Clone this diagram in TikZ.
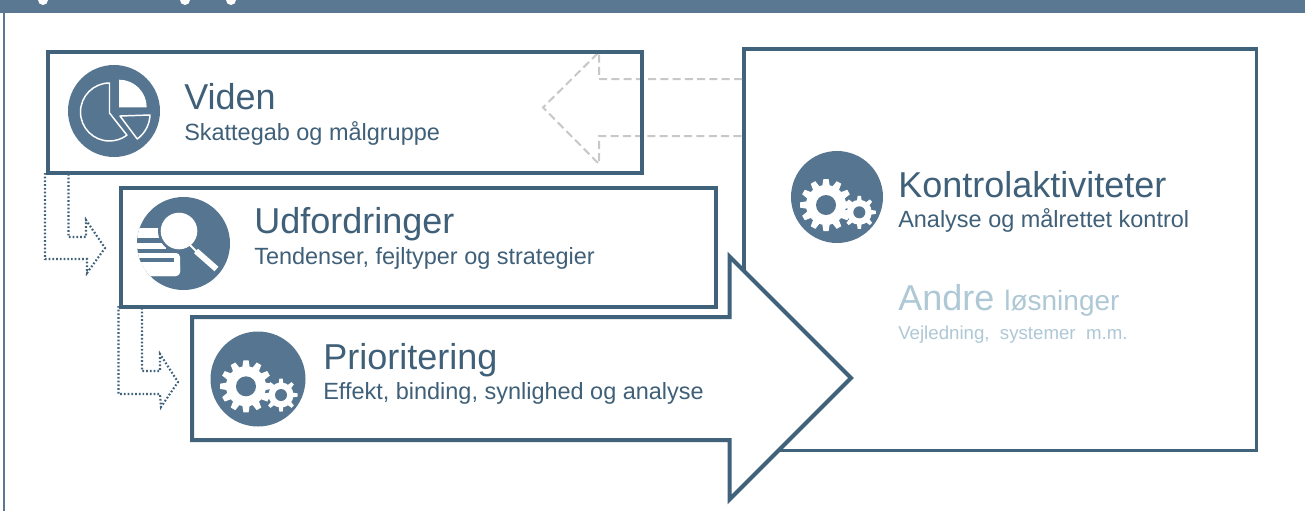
\documentclass[tikz,border=0pt]{standalone}
\usepackage{fontspec}
\setmainfont{Liberation Sans}
\definecolor{band}{HTML}{5A7891}
\definecolor{edge}{HTML}{40627A}
\definecolor{disc}{HTML}{567590}
\definecolor{txt}{HTML}{3F6078}
\definecolor{pale}{HTML}{AEC8D6}
\definecolor{dash}{HTML}{C8C8C8}
\newcommand{\gearshape}[6]{% x y teeth R r hole
  \begin{scope}[shift={(#1,#2)}]
    \fill[white] (0,0) circle[radius=#5];
    \foreach \a in {1,...,#3}{
      \begin{scope}[rotate={\a*360/#3}]
        \fill[white] (#5-2,-#4*0.15) -- (#4,-#4*0.1) -- (#4,#4*0.1) -- (#5-2,#4*0.15) -- cycle;
      \end{scope}
    }
    \fill[disc] (0,0) circle[radius=#6];
  \end{scope}}
\tikzset{
  x=.75pt,y=.75pt,
  panel/.style={draw=edge,line width=3pt,fill=white,miter limit=10},
  panelline/.style={draw=edge,line width=3pt,miter limit=10},
  ghost/.style={draw=dash,line width=1.5pt,dash pattern=on 6pt off 3.2pt},
  dots/.style={draw=edge,line width=1.6pt,dash pattern=on 1.3pt off 1.5pt},
  icon/.style={circle,fill=disc,inner sep=0pt,outer sep=0pt},
  title/.style={anchor=base west,inner sep=0pt,text=txt,font=\fontsize{27}{27}\selectfont},
  sub/.style={anchor=base west,inner sep=0pt,text=txt,font=\fontsize{17.6}{17.6}\selectfont},
}
\begin{document}
\begin{tikzpicture}
\useasboundingbox (0,0) rectangle (1305,-511);
\fill[white] (0,0) rectangle (1305,-511);
% header band and left rule
\fill[band] (0,0) rectangle (1305,-13);
\fill[band] (3.3,-13) rectangle (5,-511);
\foreach \x in {43,185,231}{\fill[white] (\x-5,0) arc[start angle=180,end angle=360,radius=5] -- cycle;}
% big box
\draw[panel,line width=2.7pt] (744,-49) rectangle (1256.5,-450.5);
% viden box, fill then ghost arrow then border
\fill[white] (45.5,-50) rectangle (640,-171);
\coordinate (g1) at (742,-79);
\coordinate (g2) at (599,-79);
\coordinate (g3) at (599,-52);
\coordinate (g4) at (543,-107.5);
\coordinate (g5) at (599,-164);
\coordinate (g6) at (599,-136);
\coordinate (g7) at (742,-136);
\draw[ghost] (g1) -- (g2) -- (g3) -- (g4) -- (g5) -- (g6) -- (g7);
\node[panelline,draw,rectangle,minimum width=594.5*.75pt,minimum height=121*.75pt,inner sep=0pt,anchor=north west] (viden) at (45.5,-50) {};
% dotted connectors
\coordinate (a1) at (45,-173);
\coordinate (a2) at (45,-259);
\coordinate (a3) at (87,-259);
\coordinate (a4) at (87,-273);
\coordinate (a5) at (105,-248);
\coordinate (a6) at (86,-220);
\coordinate (a7) at (86,-237);
\coordinate (a8) at (68.5,-237);
\coordinate (a9) at (68.5,-173);
\draw[dots] (a1) -- (a2) -- (a3) -- (a4) -- (a5) -- (a6) -- (a7) -- (a8) -- (a9);
\coordinate (b1) at (118.5,-306);
\coordinate (b2) at (118.5,-394);
\coordinate (b3) at (160,-394);
\coordinate (b4) at (161,-407);
\coordinate (b5) at (178,-382);
\coordinate (b6) at (160,-354);
\coordinate (b7) at (160,-371);
\coordinate (b8) at (142,-371);
\coordinate (b9) at (142,-306);
\draw[dots] (b1) -- (b2) -- (b3) -- (b4) -- (b5) -- (b6) -- (b7) -- (b8) -- (b9);
% udfordringer box
\node[panel,rectangle,minimum width=595*.75pt,minimum height=118.5*.75pt,inner sep=0pt,anchor=north west] (udf) at (119,-186) {};
% big arrow
\draw[panel] (192,-317) -- (729.5,-317) -- (729.5,-256.5) -- (851,-378) -- (729.5,-499.5) -- (729.5,-440) -- (192,-440) -- cycle;
% icons
\node[icon,minimum size=92*.75pt] (ic1) at (114,-111) {};
\draw[white,line width=1.1pt,line join=round] (109.5,-83) arc[start angle=90,end angle=307,radius=29] -- (109.5,-113) -- cycle;
\fill[white] (146.7,-107.3) arc[start angle=0,end angle=90,radius=27.6] -- (119,-107.3) -- cycle;
\draw[white,line width=1.1pt,line join=round] (120,-116) -- (150,-115) arc[start angle=-2,end angle=-54,radius=31] -- cycle;
\node[icon,minimum size=93*.75pt] (ic2) at (183.5,-243.5) {};
\begin{scope}
  \clip (183.5,-243.5) circle[radius=46.5];
  \fill[white] (130,-228) rectangle (163,-238);
  \fill[white] (130,-243) rectangle (166,-249);
  \fill[white,rounded corners=3pt] (130,-253) -- (180,-253) -- (180,-276) -- (130,-276) -- cycle;
  \fill[disc] (130,-258) rectangle (174,-262);
  \fill[disc] (130,-271) rectangle (172,-276) ;
  \fill[white,rounded corners=3pt] (130,-262) -- (180,-262) -- (180,-276) -- (130,-276) -- cycle;
\end{scope}
\fill[disc] (179,-231) circle[radius=21];
\fill[white] (179,-231) circle[radius=18.3];
\draw[white,line width=1.5pt] (190,-245) -- (197,-252);
\draw[white,line width=4.5pt] (196,-251) -- (216.5,-269);
\node[icon,minimum size=95*.75pt] (ic3) at (258,-379) {};
\gearshape{246}{-386.3}{12}{26}{20}{10}
\gearshape{281}{-395}{8}{16.5}{12.5}{6}
\node[icon,minimum size=92*.75pt] (ic4) at (837,-197) {};
\gearshape{826}{-205}{12}{26}{20}{10}
\gearshape{859.3}{-212.3}{8}{16.5}{12.5}{6}
% texts
\node[title] (t1) at (184,-109) {Viden};
\node[sub] (s1) at (184,-140) {Skattegab og målgruppe};
\node[title] (t2) at (254,-233) {Udfordringer};
\node[sub] (s2) at (254,-264) {Tendenser, fejltyper og strategier};
\node[title] (t3) at (323,-369) {Prioritering};
\node[sub] (s3) at (323,-399) {Effekt, binding, synlighed og analyse};
\node[title] (t4) at (898,-197) {Kontrolaktiviteter};
\node[sub] (s4) at (898,-227) {Analyse og målrettet kontrol};
\node[anchor=base west,inner sep=0pt,text=pale,font=\fontsize{27}{27}\selectfont] (t5) at (898,-310) {Andre \fontsize{21}{21}\selectfont løsninger};
\node[anchor=base west,inner sep=0pt,text=pale,font=\fontsize{14}{14}\selectfont] (s5) at (898,-339) {Vejledning,\ \ systemer\ \ m.m.};
\end{tikzpicture}
\end{document}
